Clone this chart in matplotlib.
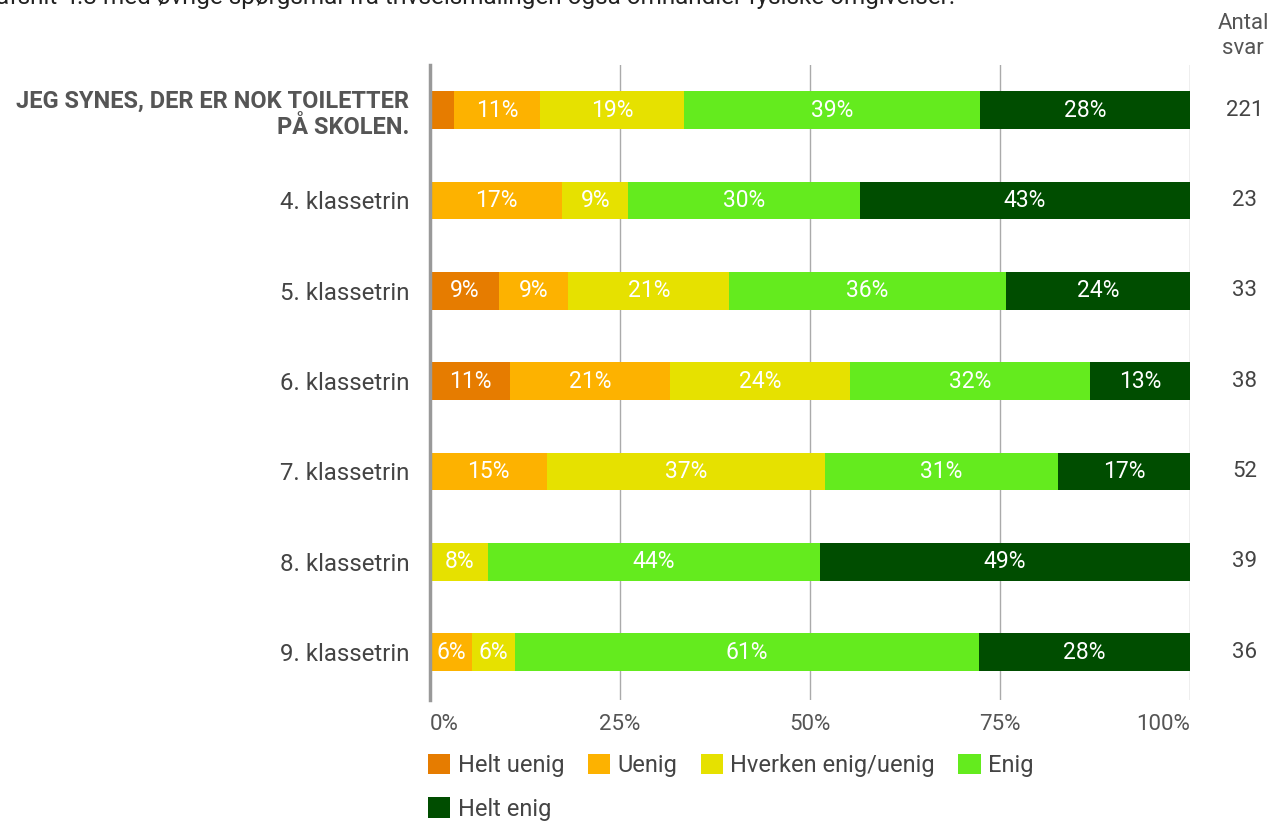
import numpy as np
import matplotlib.pyplot as plt
from matplotlib.patches import Patch

plt.rcParams['font.family'] = ['Roboto', 'DejaVu Sans']

rows = ['JEG SYNES, DER ER NOK TOILETTER\nPÅ SKOLEN.', '4. klassetrin', '5. klassetrin',
        '6. klassetrin', '7. klassetrin', '8. klassetrin', '9. klassetrin']
antal = [221, 23, 33, 38, 52, 39, 36]
kategorier = ['Helt uenig', 'Uenig', 'Hverken enig/uenig', 'Enig', 'Helt enig']
farver = ['#E67C00', '#FDB200', '#E6E100', '#64EB1E', '#004D00']

helt_uenig = [3.17, 0, 9.09, 10.53, 0, 0, 0]
uenig = [11.31, 17.39, 9.09, 21.05, 15.38, 0, 5.56]
hverken = [19.00, 8.70, 21.21, 23.68, 36.54, 7.69, 5.56]
enig = [38.91, 30.43, 36.36, 31.58, 30.77, 43.59, 61.11]
helt_enig = [27.60, 43.48, 24.24, 13.16, 17.31, 48.72, 27.78]
serier = [helt_uenig, uenig, hverken, enig, helt_enig]

fig = plt.figure(figsize=(12.74, 8.21), dpi=100)
ax = fig.add_axes([430/1274, 1-700/821, 760/1274, 635/821])

y = np.arange(len(rows))
left = np.zeros(len(rows))
handles = []
for navn, vals, c in zip(kategorier, serier, farver):
    vals = np.array(vals)
    ax.barh(y, vals, left=left, height=0.42, color=c, zorder=3)
    for yi, (l, v) in enumerate(zip(left, vals)):
        if v >= 5:
            ax.text(l + v/2, yi, f'{v:.0f}%', ha='center', va='center',
                    color='white', fontsize=16.5, zorder=4)
    left += vals
    handles.append(Patch(facecolor=c, label=navn))

ax.set_xlim(0, 100)
ax.set_ylim(6.53, -0.5)
ax.set_xticks([0, 25, 50, 75, 100])
ax.set_xticklabels(['0%', '25%', '50%', '75%', '100%'], fontsize=16, color='#555555')
xl = ax.get_xticklabels()
xl[0].set_ha('left')
xl[-1].set_ha('right')
ax.set_yticks(y)
ax.set_yticklabels(rows, fontsize=17.3, color='#444444')
lbl = ax.get_yticklabels()[0]
lbl.set_fontweight('bold')
lbl.set_color('#555555')
lbl.set_fontsize(17)
ax.tick_params(length=0)
ax.tick_params(axis='x', pad=10)
ax.tick_params(axis='y', pad=15)
ax.grid(axis='x', color='#aaaaaa', lw=1, zorder=0)
for s in ['top', 'right', 'bottom']:
    ax.spines[s].set_visible(False)
ax.spines['left'].set_color('#999999')
ax.spines['left'].set_linewidth(2.5)
ax.spines['left'].set_zorder(5)

for yi, n in zip(y, antal):
    ax.text(1.072, yi, str(n), transform=ax.get_yaxis_transform(), ha='center',
            va='center', fontsize=16, color='#444444')
fig.text(1243/1274, 1-36/821, 'Antal\nsvar', ha='center', va='center',
         fontsize=16, color='#555555', linespacing=1.25)

fig.text(-0.003, 1-4/821, 'afsnit 4.3 med øvrige spørgsmål fra trivselsmålingen også omhandler fysiske omgivelser.',
         ha='left', va='baseline', fontsize=17.5, color='#222222')

order = [0, 4, 1, 2, 3]
fig.legend([handles[i] for i in order], [kategorier[i] for i in order],
           loc='upper left', bbox_to_anchor=(428/1274, 1-754/821), ncol=4,
           frameon=False, fontsize=17, labelcolor='#444444', handlelength=0.95,
           handleheight=0.95, handletextpad=0.3, columnspacing=1.0, labelspacing=0.85,
           borderaxespad=0, borderpad=0)

fig.savefig('out.png', dpi=100)
